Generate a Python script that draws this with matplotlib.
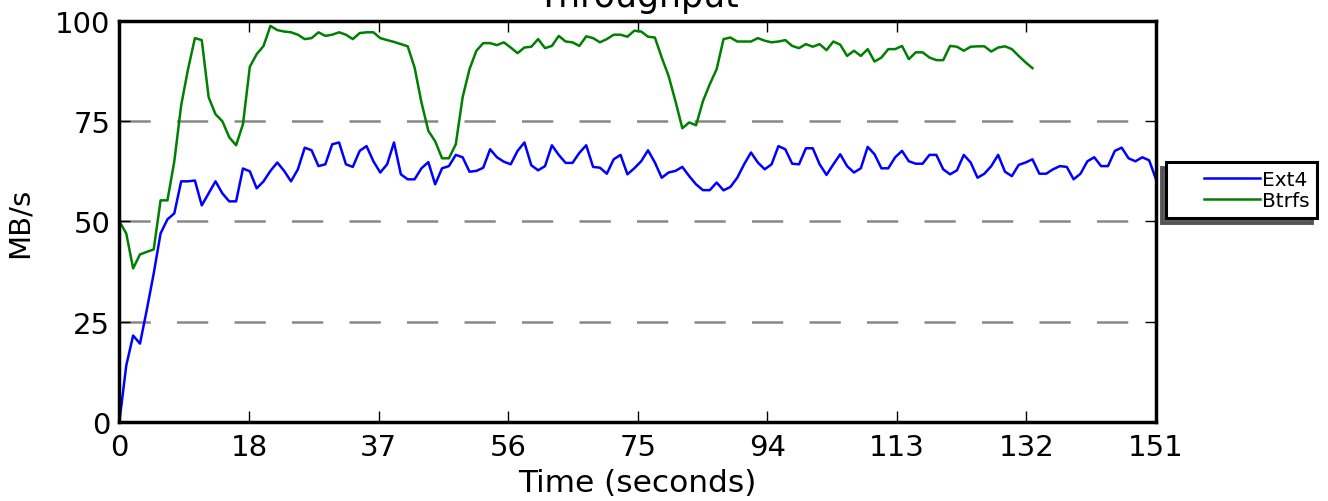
import numpy as np
import matplotlib
matplotlib.use('Agg')
import matplotlib.pyplot as plt
from matplotlib.lines import Line2D
from matplotlib.legend_handler import HandlerLine2D

# throughput samples, one per second (MB/s)
ext4 = [0, 14, 21.5, 19.5, 28, 37, 47, 50.5, 52, 60,
        60, 60.2, 54, 57, 60, 57, 55, 55, 63.2, 62.5,
        58.25, 60, 62.6, 64.7, 62.6, 60, 63, 68.4, 67.75, 63.8,
        64.25, 69.25, 69.7, 64.25, 63.6, 67.6, 68.8, 65, 62.2, 64.25,
        69.7, 61.75, 60.5, 60.5, 63.25, 64.8, 59.25, 63.25, 63.8, 66.6,
        66, 62.4, 62.6, 63.4, 68, 66, 64.9, 64.25, 67.6, 69.7,
        64, 62.75, 63.8, 69, 66.6, 64.6, 64.6, 67.1, 69, 63.6,
        63.4, 61.9, 65.5, 66.6, 61.75, 63.25, 65, 67.75, 64.7, 60.9,
        62.2, 62.6, 63.6, 61.3, 59.25, 57.8, 57.8, 59.7, 57.75, 58.6,
        60.9, 64.25, 67.2, 64.7, 63, 64.25, 68.8, 68, 64.4, 64.25,
        68.25, 68.25, 64.25, 61.6, 64.25, 66.75, 63.8, 62.2, 63.25, 68.6,
        66.75, 63.25, 63.25, 66, 67.6, 65, 64.4, 64.4, 66.6, 66.6,
        63, 61.75, 62.75, 66.6, 64.7, 60.9, 61.9, 63.8, 66.6, 62.4,
        61.3, 64.1, 64.7, 65.5, 61.9, 61.9, 63, 63.8, 63.6, 60.5,
        61.9, 65, 66, 63.8, 63.8, 67.6, 68.4, 65.75, 65, 66,
        65.25, 60.5]
btrfs = [50, 47, 38.25, 41.75, 42.4, 43, 55.25, 55.25, 65, 79,
         88, 95.75, 95.25, 81, 76.75, 75, 71, 69, 74.25, 88.6,
         91.75, 93.8, 98.8, 97.75, 97.4, 97.2, 96.6, 95.5, 95.75, 97.2,
         96.3, 96.6, 97.2, 96.6, 95.5, 97, 97.2, 97.2, 95.75, 95.25,
         94.8, 94.25, 93.7, 88.4, 79.7, 72.6, 70, 65.75, 65.75, 69.25,
         81, 88, 92.6, 94.5, 94.5, 94, 94.7, 93.4, 92, 93.4,
         93.6, 95.5, 93.25, 93.8, 96.3, 94.9, 94.7, 93.8, 96.2, 95.75,
         94.7, 95.5, 96.6, 96.6, 96.1, 97.6, 97.4, 96.1, 95.9, 90.9,
         86.3, 80, 73.25, 74.7, 74, 80, 84.25, 88, 95.5, 95.9,
         94.9, 94.9, 94.9, 95.75, 95.1, 94.7, 94.9, 95.25, 93.8, 93.25,
         94.25, 93.6, 94.25, 92.75, 94.9, 94.1, 91.3, 92.6, 91.3, 93,
         89.9, 90.9, 93, 93, 93.8, 90.5, 92.2, 92.2, 90.9, 90.25,
         90.25, 93.8, 93.6, 92.6, 93.6, 93.7, 93.7, 92.4, 93.4, 93.7,
         93, 91.3, 89.7, 88.25]
series_names = ['Ext4', 'Btrfs']
y_ticks = [0, 25, 50, 75, 100]

t_ext4 = np.arange(len(ext4))
t_btrfs = np.arange(len(btrfs))
t_max = len(ext4) - 1

fig = plt.figure(figsize=(13.28, 5.02), dpi=100)
ax = fig.add_axes([0.0899, 0.158, 0.7806, 0.798])

ax.plot(t_ext4, ext4, color='#0000ff', lw=1.8, label=series_names[0])
ax.plot(t_btrfs, btrfs, color='#008000', lw=1.8, label=series_names[1])

ax.set_xlim(0, t_max)
ax.set_ylim(0, 100)
x_ticks = np.linspace(0, t_max, 9)
ax.set_xticks(x_ticks)
ax.set_xticklabels([str(int(v)) for v in x_ticks])
ax.set_yticks(y_ticks)

ax.yaxis.grid(True, color='#888888', lw=1.8, linestyle=(0, (12.5, 10.5)))
ax.xaxis.grid(False)

ax.tick_params(direction='in', top=True, right=True, length=8, width=1,
               labelsize=21, colors='black')
ax.tick_params(axis='x', pad=8)
ax.tick_params(axis='y', pad=6.5)
for s in ax.spines.values():
    s.set_linewidth(2.5)

ax.set_title('Throughput', fontsize=25, pad=11)
ax.set_xlabel('Time (seconds)', fontsize=22.5, labelpad=5)
ax.set_ylabel('MB/s', fontsize=21)
ax.yaxis.set_label_coords(-0.083, 0.5)

leg = ax.legend(loc='upper left', bbox_to_anchor=(1166 / 1328, 1 - 163 / 502),
                bbox_transform=fig.transFigure, borderaxespad=0,
                fontsize=14.5, borderpad=0.4, labelspacing=0.1,
                handlelength=5.75, handletextpad=-1.4, fancybox=False,
                shadow={'ox': -3.5, 'oy': -3.5, 'alpha': 0.9},
                handler_map={Line2D: HandlerLine2D(marker_pad=1.5, numpoints=2)})
leg.get_frame().set_edgecolor('black')
leg.get_frame().set_linewidth(2.2)

fig.savefig('out.png', dpi=100)
